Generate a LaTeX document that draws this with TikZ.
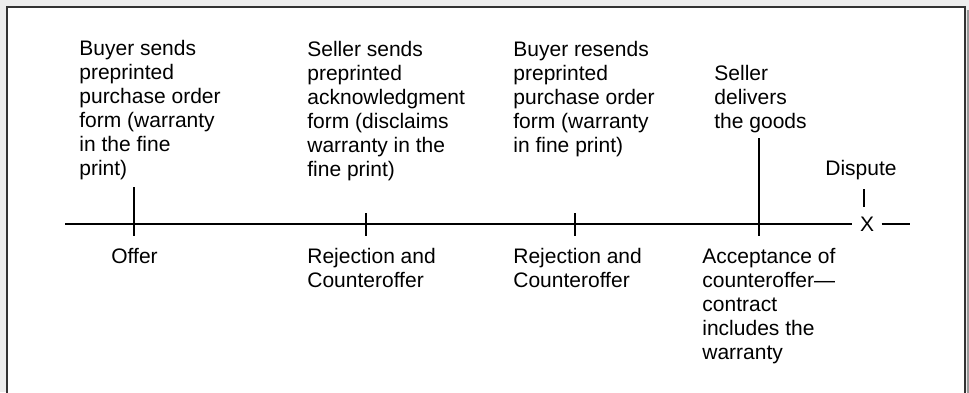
\documentclass[tikz,border=0pt]{standalone}
\usepackage{fontspec}
\setmainfont{Liberation Sans}
\usetikzlibrary{positioning}

\begin{document}
\begin{tikzpicture}[x=0.5pt, y=-0.5pt,
    note/.style={align=left, anchor=north west, inner sep=0pt, font=\fontsize{10.5}{12}\selectfont},
    tick/.style={line width=0.7pt}]
    % frame
    \useasboundingbox[fill=black!7] (0,0) rectangle (969,392);
    \clip (0,0) rectangle (969,392);
    \fill[black!40] (967,10) rectangle (969,400);
    \draw[line width=1pt, draw=black!80, fill=white] (7,7) rectangle (965,420);

    % ticks
    \coordinate (l) at (65,224);
    \coordinate (r) at (910,224);
    \coordinate (t1) at (134,236);
    \coordinate (t2) at (366,236);
    \coordinate (t3) at (575,236);
    \coordinate (t4) at (759,236);
    \coordinate (t1_p) at (134,187);
    \coordinate (t2_p) at (366,213);
    \coordinate (t3_p) at (575,213);
    \coordinate (t4_p) at (759,138);
    \coordinate (d1) at (864,189);
    \coordinate (d2) at (864,207);

    \node [inner sep=3.6pt, font=\fontsize{10.5}{12}\selectfont] (x) at (867,224) {X};
    \node [inner sep=0pt, anchor=base, font=\fontsize{10.5}{12}\selectfont] (dispute) at (861,175) {Dispute};

    % top texts
    \node [note] (b1) at (79,40) {Buyer sends\\preprinted\\purchase order\\form (warranty\\in the fine\\print)};
    \node [note] (s1) at (307,41) {Seller sends\\preprinted\\acknowledgment\\form (disclaims\\warranty in the\\fine print)};
    \node [note] (b2) at (513,41) {Buyer resends\\preprinted\\purchase order\\form (warranty\\in fine print)};
    \node [note] (s2) at (714,65) {Seller\\delivers\\the goods};

    % bottom texts
    \node [note] (offer) at (111,248) {Offer};
    \node [note] (rej1) at (307,248) {Rejection and\\Counteroffer};
    \node [note] (rej2) at (513,248) {Rejection and\\Counteroffer};
    \node [note] (acc) at (702,248) {Acceptance of\\counteroffer---\\contract\\includes the\\warranty};

    \draw [tick] (l) -- (x.west);
    \draw [tick] (x.east) -- (r);
    \draw [tick] (t1_p) -- (t1);
    \draw [tick] (t2_p) -- (t2);
    \draw [tick] (t3_p) -- (t3);
    \draw [tick] (t4_p) -- (t4);
    \draw [tick] (d1) -- (d2);
\end{tikzpicture}
\end{document}
